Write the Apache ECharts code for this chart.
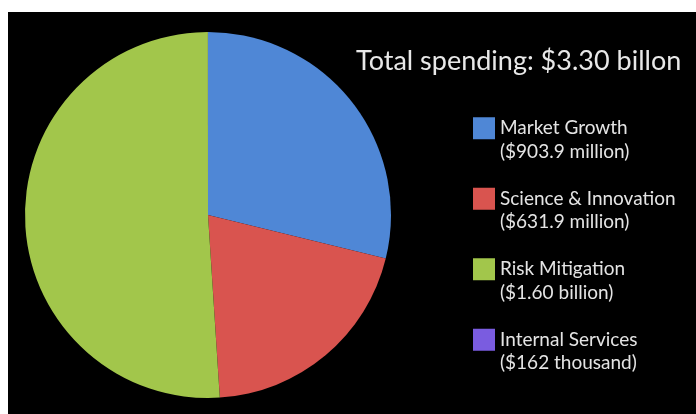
<!DOCTYPE html>
<html>
<head>
<meta charset="utf-8">
<script src="https://cdn.jsdelivr.net/npm/echarts@6/dist/echarts.min.js"></script>
<style>
  html, body { margin: 0; padding: 0; background: #fff; }
  #chart { position: absolute; left: 8px; top: 12px; width: 688px; height: 402px; }
</style>
</head>
<body>
<div id="chart"></div>
<script>
// spending by program (millions of dollars)
let categories = ['Market Growth', 'Science & Innovation', 'Risk Mitigation', 'Internal Services'];
let values = [903.9, 631.9, 1600, 0.162];
let amountLabels = ['($903.9 million)', '($631.9 million)', '($1.60 billion)', '($162 thousand)'];
let colors = ['#4f87d6', '#d9544f', '#a2c64b', '#7a5ce0'];
let titleText = 'Total spending: $3.30 billon';

var chart = echarts.init(document.getElementById('chart'));

let pieData = categories.map((c, i) => {
    return { name: c, value: values[i] };
});

option = {
    backgroundColor: '#000',
    color: colors,
    animation: false,
    title: {
        text: titleText,
        left: 348,
        top: 36,
        padding: 0,
        textStyle: {
            fontFamily: 'Lato',
            fontSize: 27,
            fontWeight: 'normal',
            color: '#e8e8e8'
        }
    },
    legend: {
        orient: 'vertical',
        left: 460,
        top: 76,
        itemWidth: 22,
        itemHeight: 22,
        itemGap: 0,
        icon: 'rect',
        itemStyle: { borderWidth: 0 },
        data: categories,
        // blank first line so the name sits level with the square
        formatter: name => {
            let i = categories.indexOf(name);
            return '\n' + name + '\n' + amountLabels[i];
        },
        textStyle: {
            fontFamily: 'Lato',
            fontSize: 19,
            lineHeight: 23.5,
            color: '#e4e4e4'
        }
    },
    series: [{
        type: 'pie',
        radius: 183,
        center: [200, 203],
        startAngle: 90,
        clockwise: true,
        silent: true,
        label: { show: false },
        labelLine: { show: false },
        itemStyle: { borderWidth: 0 },
        data: pieData
    }]
};
chart.setOption(option);
</script>
</body>
</html>
